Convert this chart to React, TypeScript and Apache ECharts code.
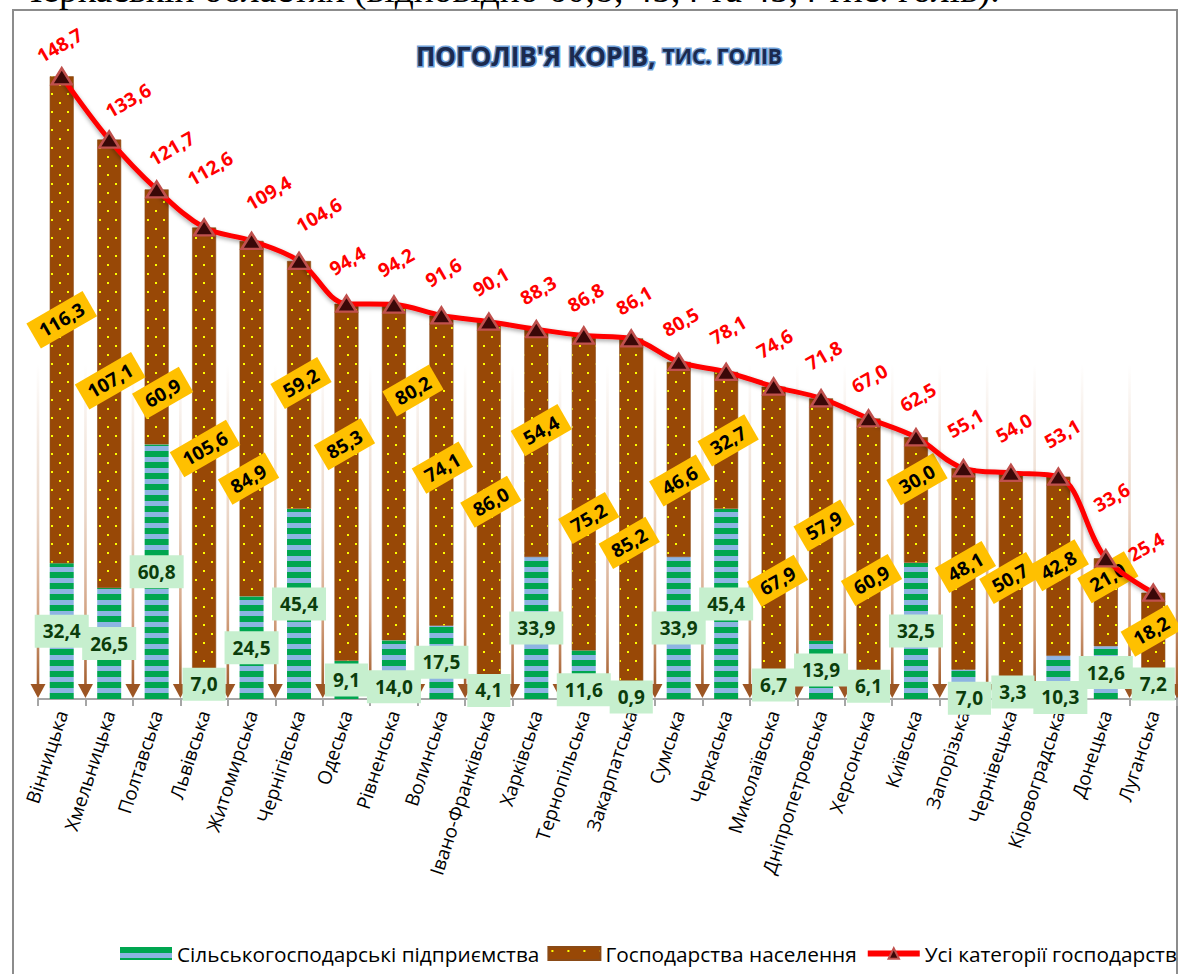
import React, { useEffect, useRef } from 'react';
import * as echarts from 'echarts';

// ---------- data ----------
const regions = [
  'Вінницька', 'Хмельницька', 'Полтавська', 'Львівська', 'Житомирська', 'Чернігівська',
  'Одеська', 'Рівненська', 'Волинська', 'Івано-Франківська', 'Харківська', 'Тернопільська',
  'Закарпатська', 'Сумська', 'Черкаська', 'Миколаївська', 'Дніпропетровська', 'Херсонська',
  'Київська', 'Запорізька', 'Чернівецька', 'Кіровоградська', 'Донецька', 'Луганська',
];
const enterprises = [32.4, 26.5, 60.8, 7.0, 24.5, 45.4, 9.1, 14.0, 17.5, 4.1, 33.9, 11.6, 0.9, 33.9, 45.4, 6.7, 13.9, 6.1, 32.5, 7.0, 3.3, 10.3, 12.6, 7.2];
const households = [116.3, 107.1, 60.9, 105.6, 84.9, 59.2, 85.3, 80.2, 74.1, 86.0, 54.4, 75.2, 85.2, 46.6, 32.7, 67.9, 57.9, 60.9, 30.0, 48.1, 50.7, 42.8, 21.0, 18.2];
const allCategories = [148.7, 133.6, 121.7, 112.6, 109.4, 104.6, 94.4, 94.2, 91.6, 90.1, 88.3, 86.8, 86.1, 80.5, 78.1, 74.6, 71.8, 67.0, 62.5, 55.1, 54.0, 53.1, 33.6, 25.4];

const seriesNames = ['Сільськогосподарські підприємства', 'Господарства населення', 'Усі категорії господарств'];
const titleMain = "ПОГОЛІВ'Я КОРІВ, ";
const titleSub = 'ТИС. ГОЛІВ';
const pageTextAbove = 'Черкаській областях (відповідно 60,8; 45,4 та 45,4 тис. голів).';

// ---------- label placement (styles, screen pixels) ----------
const hhLabelOffsets: number[][] = [
  [0, 0], [1, 17], [6, 76], [1, 0], [-3, 60], [2, -2], [-2, -38], [19, -82], [1, -3], [2, 0], [5, -13], [5, 25],
  [-2, 26], [1, 21], [2, 0], [4, 52], [3, 6], [3, 34], [1, -21], [2, -2], [-1, -1], [0, -1], [2, -25], [-2, 0],
];
const entLabelOffsets: number[][] = [
  [0, 0], [0, 0], [0, 0], [0, 0], [0, 0], [0, 0], [0, 0], [0, 17], [0, 0], [0, 0], [0, 0], [0, 15],
  [0, 0], [0, 0], [0, 0], [0, 0], [0, 0], [0, 0], [0, 0], [6, 14], [2, 0], [2, 20], [0, 0], [0, 0],
];
const totalLabelOffsets: number[][] = [
  [-2, -31], [19, -39], [15, -41], [6, -59], [17, -48], [20, -46], [1, -43], [2, -42], [2, -43], [2, -40], [2, -39], [2, -38],
  [3, -38], [2, -40], [2, -42], [1, -43], [3, -43], [1, -40], [2, -40], [2, -45], [3, -45], [4, -43], [6, -61], [-7, -46],
];
const LABEL_ROT = 30;

// label offsets are applied in the rotated frame; convert screen offsets
const toRotated = (o: number[]) => {
  const t = (LABEL_ROT * Math.PI) / 180;
  return [o[0] * Math.cos(t) - o[1] * Math.sin(t), o[0] * Math.sin(t) + o[1] * Math.cos(t)];
};

const fmt = (v: number) => v.toFixed(1).replace('.', ',');
const FONT = 'Open Sans';

function stripeCanvas() {
  const c = document.createElement('canvas');
  c.width = 8; c.height = 11;
  const ctx = c.getContext('2d')!;
  ctx.fillStyle = '#8DB4E2';
  ctx.fillRect(0, 0, 8, 11);
  ctx.fillStyle = '#00A650';
  ctx.fillRect(0, 0, 8, 6);
  return c;
}
function dotCanvas() {
  const c = document.createElement('canvas');
  c.width = 16; c.height = 18;
  const ctx = c.getContext('2d')!;
  ctx.fillStyle = '#984806';
  ctx.fillRect(0, 0, 16, 18);
  ctx.fillStyle = '#FFFF00';
  ctx.fillRect(3, 3, 2, 2);
  ctx.fillRect(11, 12, 2, 2);
  return c;
}

export default function App() {
  const ref = useRef<HTMLDivElement>(null);
  useEffect(() => {
    document.body.style.margin = '0';
    const chart = echarts.init(ref.current!, null, { renderer: 'svg' });
    const stripes = { image: stripeCanvas(), repeat: 'repeat' };
    const dots = { image: dotCanvas(), repeat: 'repeat' };

    const option: any = {
      animation: false,
      backgroundColor: '#fff',
      title: {
        text: `{a|${titleMain}}{b|${titleSub}}`,
        left: 411,
        top: 38,
        textStyle: {
          rich: {
            a: {
              fontSize: 26, fontWeight: 'bold', fontFamily: FONT, color: '#1B2A4E',
              textBorderColor: '#6F9FD8', textBorderWidth: 3,
            },
            b: {
              fontSize: 21, fontWeight: 'bold', fontFamily: FONT, color: '#1B2A4E',
              textBorderColor: '#6F9FD8', textBorderWidth: 3,
            },
          },
        },
      },
      graphic: [
        {
          type: 'rect', silent: true, z: -10,
          shape: { x: 13, y: 10, width: 1164, height: 990 },
          style: { fill: 'none', stroke: '#8C8C8C', lineWidth: 2 },
        },
        {
          type: 'text', silent: true,
          style: { text: pageTextAbove, x: 18, y: 8.5, verticalAlign: 'bottom', font: '37.5px "Liberation Serif"', fill: '#000' },
        },
      ],
      legend: {
        left: 120,
        top: 943,
        width: 1100,
        padding: 0,
        itemWidth: 52,
        itemHeight: 13,
        itemGap: 8,
        textStyle: { fontSize: 20.8, fontFamily: FONT, color: '#000' },
        data: [
          { name: seriesNames[0], icon: 'rect' },
          { name: seriesNames[1], icon: 'rect' },
          { name: seriesNames[2], lineStyle: { width: 6, color: '#FF0000' } },
        ],
      },
      grid: { left: 38, right: 1, top: 29, bottom: 275, containLabel: false },
      xAxis: {
        type: 'category',
        data: regions,
        axisLine: { lineStyle: { color: '#A6A6A6', width: 2 } },
        axisTick: { show: true, length: 7, lineStyle: { color: '#A6A6A6', width: 2 } },
        axisLabel: { rotate: 72, interval: 0, fontSize: 19, fontFamily: FONT, color: '#000', margin: 12 },
      },
      yAxis: { type: 'value', min: 0, max: 160, show: false },
      series: [
        {
          type: 'custom',
          silent: true,
          z: 1,
          data: regions.map((_, i) => [i, 0]),
          encode: { x: 0, y: 1 },
          renderItem: (params: any, api: any) => {
            const i = params.dataIndex;
            const base = api.coord([i, 0]);
            const top = api.coord([i, 80])[1];
            const bw = api.size([1, 0])[0];
            const xs = [base[0] - bw / 2];
            if (i === regions.length - 1) xs.push(base[0] + bw / 2);
            const children: any[] = [];
            xs.forEach((x) => {
              children.push({
                type: 'rect',
                shape: { x: x - 1.3, y: top, width: 2.6, height: base[1] - 14 - top },
                style: {
                  fill: new echarts.graphic.LinearGradient(0, 0, 0, 1, [
                    { offset: 0, color: 'rgba(215,175,145,0)' },
                    { offset: 0.45, color: 'rgba(220,185,160,0.55)' },
                    { offset: 0.8, color: 'rgba(200,140,100,0.85)' },
                    { offset: 1, color: '#A35E2E' },
                  ]),
                },
              });
              children.push({
                type: 'polygon',
                shape: { points: [[x - 7.5, base[1] - 15], [x + 7.5, base[1] - 15], [x, base[1] - 1]] },
                style: { fill: '#9C5523' },
              });
            });
            return { type: 'group', children };
          },
        },
        {
          name: seriesNames[0],
          type: 'bar',
          stack: 'total',
          barWidth: 24,
          z: 2,
          itemStyle: { color: stripes },
          data: enterprises.map((v, i) => ({ value: v, label: { offset: entLabelOffsets[i] } })),
          label: {
            show: true,
            position: 'inside',
            formatter: (p: any) => fmt(p.value),
            backgroundColor: '#C6EFCE',
            padding: [7, 8],
            color: '#0B3D0B',
            fontSize: 19,
            fontWeight: 'bold',
            fontFamily: FONT,
          },
        },
        {
          name: seriesNames[1],
          type: 'bar',
          stack: 'total',
          barWidth: 24,
          z: 2,
          itemStyle: { color: dots, borderColor: '#8A4A16', borderWidth: 0.6 },
          data: households.map((v, i) => ({ value: v, label: { offset: toRotated(hhLabelOffsets[i]) } })),
          label: {
            show: true,
            position: 'inside',
            rotate: LABEL_ROT,
            formatter: (p: any) => fmt(p.value),
            backgroundColor: '#FFC000',
            padding: [5, 8],
            color: '#000',
            fontSize: 19,
            fontWeight: 'bold',
            fontFamily: FONT,
          },
        },
        {
          name: seriesNames[2],
          type: 'line',
          z: 3,
          smooth: 0.35,
          symbol: 'triangle',
          symbolSize: [20, 16],
          lineStyle: { color: '#FF0000', width: 5, shadowColor: 'rgba(0,0,0,0.35)', shadowBlur: 4, shadowOffsetY: 2 },
          itemStyle: { color: '#3A0808', borderColor: '#C0504D', borderWidth: 2.5 },
          data: allCategories.map((v, i) => ({ value: v, label: { offset: toRotated(totalLabelOffsets[i]) } })),
          label: {
            show: true,
            position: 'inside',
            rotate: LABEL_ROT,
            align: 'center',
            verticalAlign: 'middle',
            formatter: (p: any) => fmt(p.value),
            color: '#FF0000',
            fontSize: 19,
            fontWeight: 'bold',
            fontFamily: FONT,
          },
        },
      ],
    };
    chart.setOption(option);
    return () => chart.dispose();
  }, []);
  return <div ref={ref} style={{ position: 'absolute', left: 0, top: 0, width: 1178, height: 974 }} />;
}
